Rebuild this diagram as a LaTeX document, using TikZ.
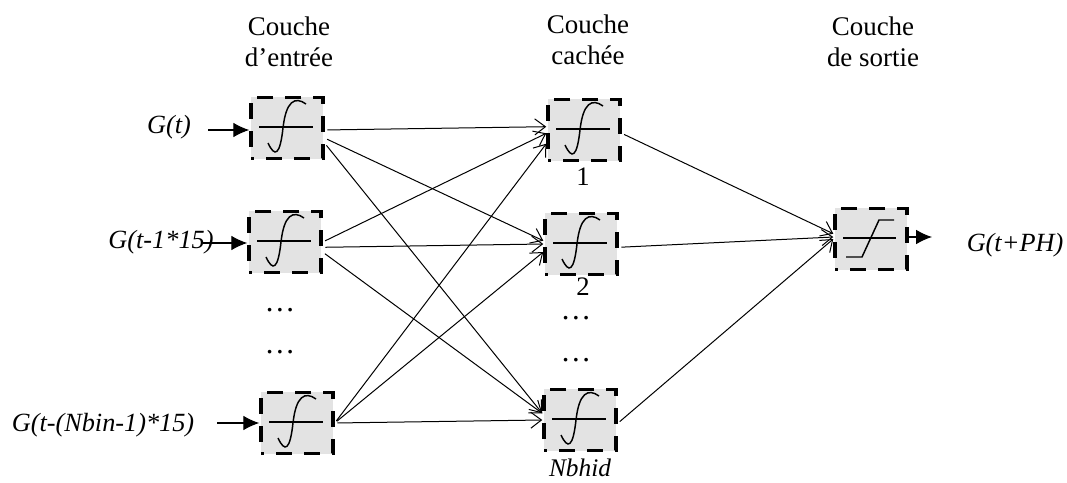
\documentclass[tikz,border=0pt]{standalone}
\usepackage{fontspec}
\setmainfont{Liberation Serif}
\usetikzlibrary{arrows.meta}
\tikzset{
	cell/.style={draw, fill=black!11, line width=2.6pt, dash pattern=on 12pt off 9pt, dash phase=9.75pt, minimum width=54pt, minimum height=46pt, inner sep=0pt},
	trace/.style={line width=1.1pt},
	link/.style={line width=0.75pt, shorten <=2pt, -{Straight Barb[length=8pt, width=12pt, line width=0.75pt]}},
	feed/.style={line width=0.8pt, -{Latex[length=12pt, width=11pt]}},
	head/.style={font=\fontsize{20.2}{23}\selectfont, align=center},
	signal/.style={font=\itshape\fontsize{19.7}{22}\selectfont},
	tag/.style={font=\fontsize{20}{22}\selectfont, inner sep=0pt},
	dotted row/.style={font=\fontsize{23}{24}\selectfont, inner sep=0pt}
}
\def\sigmoid(#1){
	\draw[trace] ([shift={(-28,-1)}]#1.center) -- ([shift={(26,-1)}]#1.center);
	\draw[trace] ([shift={(-19,15)}]#1.center) .. controls ([shift={(-12,30)}]#1.center) and ([shift={(-7,27)}]#1.center) .. ([shift={(-4,0)}]#1.center) .. controls ([shift={(-1,-27)}]#1.center) and ([shift={(8,-32)}]#1.center) .. ([shift={(19,-24)}]#1.center);
}
\begin{document}
\begin{tikzpicture}[x=0.75pt, y=-0.75pt]
	\useasboundingbox (0, 0) rectangle (1067, 482);
	%%%%% HEADERS %%%%%
	\node[head] (hin) at (289, 42) {Couche\\d’entrée};
	\node[head] (hmid) at (588, 40) {Couche\\cachée};
	\node[head] (hout) at (873, 42) {Couche\\de sortie};

	%%%%% CELLS %%%%%
	\node[cell] (in1) at (287, 128) {};
	\node[cell] (in2) at (285, 242) {};
	\node[cell] (in3) at (297, 423) {};
	\node[cell] (mid1) at (584, 130) {};
	\node[cell] (mid2) at (581, 244) {};
	\node[cell] (mid3) at (580, 420) {};
	\node[cell] (out) at (871, 239) {};
	\sigmoid(in1)
	\sigmoid(in2)
	\sigmoid(in3)
	\sigmoid(mid1)
	\sigmoid(mid2)
	\sigmoid(mid3)
	\draw[trace] ([shift={(-28,-1)}]out.center) -- ([shift={(25,-1)}]out.center);
	\draw[trace] ([shift={(-25,18)}]out.center) -- ([shift={(-9,18)}]out.center) -- ([shift={(8,-19)}]out.center) -- ([shift={(23,-19)}]out.center);

	%%%%% LABELS %%%%%
	\node[signal] (sig1) at (169, 127) {G(t)};
	\node[signal] (sig2) at (161, 242) {G(t-1*15)};
	\node[signal] (sig3) at (103, 425) {G(t-(Nbin-1)*15)};
	\node[signal] (sigout) at (1015, 245) {G(t+PH)};
	\node[tag] (n1) at (583, 177) {1};
	\node[tag] (n2) at (583, 287) {2};
	\node[dotted row] (dotsa) at (280, 310) {…};
	\node[dotted row] (dotsb) at (280, 352) {…};
	\node[dotted row] (dotsc) at (576, 318) {…};
	\node[dotted row] (dotsd) at (576, 360) {…};
	\node[signal, font=\itshape\fontsize{19}{22}\selectfont] (nhid) at (580, 468) {Nbhid};

	%%%%% FREE ENDS %%%%%
	\coordinate (src1) at (208, 130);
	\coordinate (src2) at (203, 243);
	\coordinate (src3) at (217, 423);
	\coordinate (dst) at (932, 237);

	%%%%% ARROWS %%%%%
	\draw[feed] (src1) -- (in1.west |- src1);
	\draw[feed] (src2) -- (in2.west |- src2);
	\draw[feed] (src3) -- (in3.west |- src3);
	\draw[feed] (out.east |- dst) -- (dst);

	\draw[link] (in1.-3) -- (mid1.175);
	\draw[link] (in1.-15) -- (mid2.175);
	\draw[link] (in1.-22) -- (mid3.170);
	\draw[link] (in2.east) -- (mid1.185);
	\draw[link] (in2.-8) -- (mid2.180);
	\draw[link] (in2.-15) -- (mid3.170);
	\draw[link] (in3.east) -- (mid1.200);
	\draw[link] (in3.east) -- (mid2.192);
	\draw[link] (in3.east) -- (mid3.west);
	\draw[link] (mid1.-5) -- (out.172);
	\draw[link] (mid2.-5) -- (out.177);
	\draw[link] (mid3.-5) -- (out.west);
\end{tikzpicture}
\end{document}
